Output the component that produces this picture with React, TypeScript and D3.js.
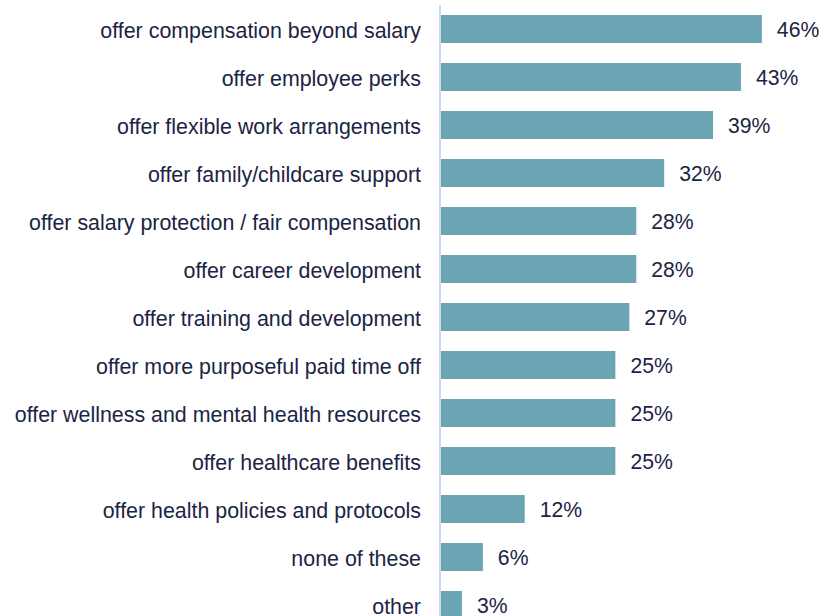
import React from "react";
import * as d3 from "d3";

const categories = [
  "offer compensation beyond salary",
  "offer employee perks",
  "offer flexible work arrangements",
  "offer family/childcare support",
  "offer salary protection / fair compensation",
  "offer career development",
  "offer training and development",
  "offer more purposeful paid time off",
  "offer wellness and mental health resources",
  "offer healthcare benefits",
  "offer health policies and protocols",
  "none of these",
  "other",
];
const values = [46, 43, 39, 32, 28, 28, 27, 25, 25, 25, 12, 6, 3];

const W = 823;
const H = 616;
const axisX = 440;

export default function App() {
  const y = d3
    .scaleBand<string>()
    .domain(categories)
    .range([5, 5 + 48 * categories.length])
    .paddingInner(20 / 48)
    .paddingOuter(10 / 48);
  const x = d3.scaleLinear().domain([0, 100]).range([axisX + 1, axisX + 1 + 697.5]);
  const font = "'Liberation Sans', Arial, sans-serif";
  const textColor = "#1b2445";
  return (
    <svg
      width={W}
      height={H}
      style={{ position: "absolute", left: 0, top: 0, background: "#fff" }}
    >
      {categories.map((c, i) => {
        const yc = (y(c) as number) + y.bandwidth() / 2;
        return (
          <g key={c}>
            <rect
              x={x(0)}
              y={y(c)}
              width={x(values[i]) - x(0)}
              height={y.bandwidth()}
              fill="#6ba5b3"
            />
            <text
              x={axisX - 19}
              y={yc}
              dy="0.4em"
              textAnchor="end"
              fontFamily={font}
              fontSize={21.4}
              fill={textColor}
            >
              {c}
            </text>
            <text
              x={x(values[i]) + 15}
              y={yc}
              dy="0.4em"
              textAnchor="start"
              fontFamily={font}
              fontSize={21.2}
              fill={textColor}
            >
              {values[i] + "%"}
            </text>
          </g>
        );
      })}
      <line x1={axisX} x2={axisX} y1={5} y2={H} stroke="#cfd7ee" strokeWidth={2} />
    </svg>
  );
}
